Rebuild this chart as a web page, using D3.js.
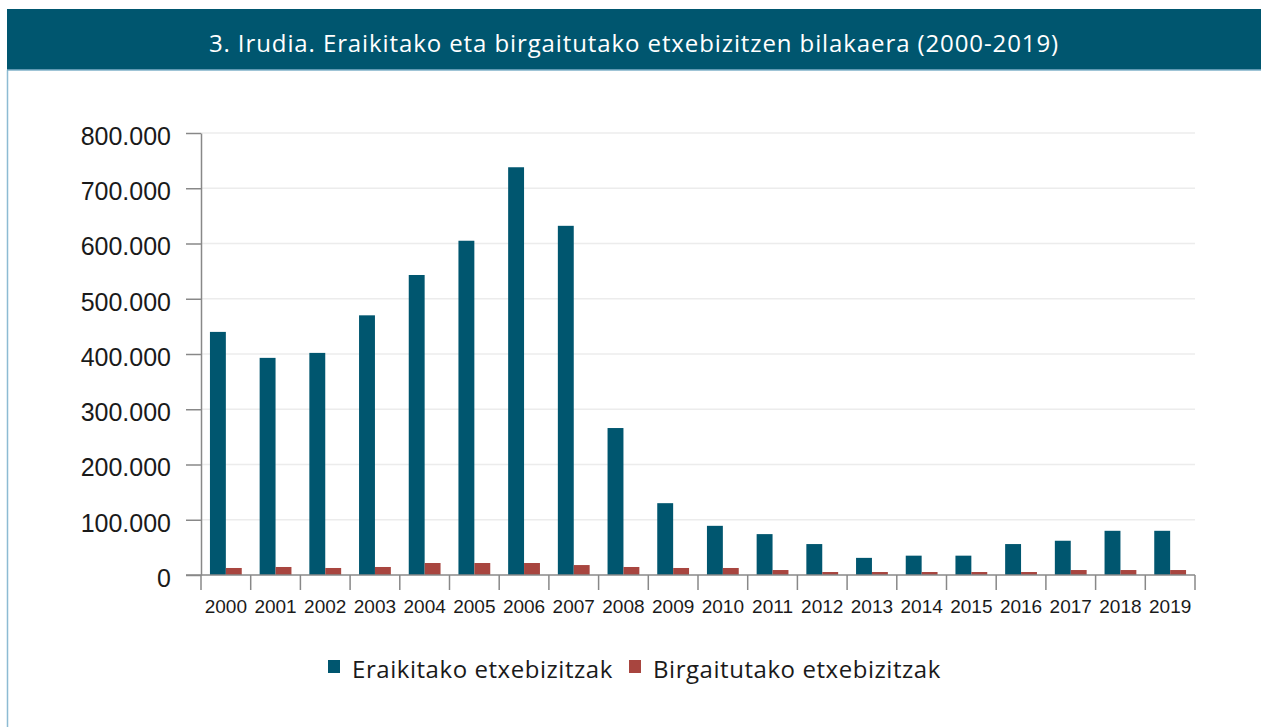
<!DOCTYPE html>
<html>
<head>
<meta charset="utf-8">
<script src="https://cdn.jsdelivr.net/npm/d3@7"></script>
<style>
  body { margin: 0; background: #fff; }
  svg { display: block; }
</style>
</head>
<body>
<svg id="graphic"></svg>
<script>

// Data
const years = ["2000","2001","2002","2003","2004","2005","2006","2007","2008","2009",
               "2010","2011","2012","2013","2014","2015","2016","2017","2018","2019"]
const eraikitakoak = [440000, 393000, 402000, 470000, 543000, 605000, 738000, 632000, 266000, 130000,
                      89000, 74000, 56000, 31000, 35000, 35000, 56000, 62000, 80000, 80000]
const birgaitutakoak = [12700, 14500, 12700, 14500, 21700, 21700, 21700, 18000, 14500, 12700,
                        12700, 9000, 5400, 5400, 5400, 5400, 5400, 9000, 9000, 9000]
const yTicks = [0, 100000, 200000, 300000, 400000, 500000, 600000, 700000, 800000]
const seriesNames = ["Eraikitako etxebizitzak", "Birgaitutako etxebizitzak"]
const title = "3. Irudia. Eraikitako eta birgaitutako etxebizitzen bilakaera (2000-2019)"

const w = 1261
const h = 727
const blue = "#00566f"
const red = "#a8453f"

const svg = d3.select("#graphic")
    .attr("width", w)
    .attr("height", h)

// Header band and frame
svg.append("line")
    .attr("x1", 7.5).attr("x2", 7.5)
    .attr("y1", 70).attr("y2", h)
    .attr("stroke", "#8dbbd3")
    .attr("stroke-width", 1.5)

svg.append("rect")
    .attr("x", 7).attr("y", 9)
    .attr("width", w - 7).attr("height", 61)
    .attr("fill", blue)

svg.append("line")
    .attr("x1", 7).attr("x2", w)
    .attr("y1", 70).attr("y2", 70)
    .attr("stroke", "#7fb0c8")
    .attr("stroke-width", 1.5)

svg.append("text")
    .attr("x", 634).attr("y", 52)
    .attr("text-anchor", "middle")
    .attr("fill", "#fff")
    .style("font-family", "'Open Sans', 'Noto Sans', sans-serif")
    .style("font-size", "24px")
    .style("letter-spacing", "0.9px")
    .text(title)

// Plot area
const plotLeft = 201, plotRight = 1195, plotTop = 133, plotBottom = 575

const xScale = d3.scaleBand()
    .domain(years)
    .range([plotLeft, plotRight])

const yScale = d3.scaleLinear()
    .domain([0, 800000])
    .range([plotBottom, plotTop])

const fmt = d => d3.format(",")(d).replace(/,/g, ".")

// Grid lines
svg.append("g")
    .selectAll("line")
    .data(yTicks.filter(d => d > 0))
    .enter()
    .append("line")
    .attr("x1", plotLeft).attr("x2", plotRight)
    .attr("y1", d => yScale(d)).attr("y2", d => yScale(d))
    .attr("stroke", "#ececec")
    .attr("stroke-width", 1.5)

// Bars
const sub = xScale.bandwidth() * 0.32

svg.append("g")
    .selectAll("rect")
    .data(eraikitakoak)
    .enter()
    .append("rect")
    .attr("x", (d, i) => xScale(years[i]) + xScale.bandwidth() / 2 - sub)
    .attr("y", d => yScale(d))
    .attr("width", sub)
    .attr("height", d => plotBottom - yScale(d))
    .attr("fill", blue)

svg.append("g")
    .selectAll("rect")
    .data(birgaitutakoak)
    .enter()
    .append("rect")
    .attr("x", (d, i) => xScale(years[i]) + xScale.bandwidth() / 2)
    .attr("y", d => yScale(d))
    .attr("width", sub)
    .attr("height", d => plotBottom - yScale(d))
    .attr("fill", red)

// Axes
const axisLeft = d3.axisLeft(yScale)
    .tickValues(yTicks)
    .tickFormat(fmt)
    .tickSize(15)
    .tickPadding(15)
    .tickSizeOuter(0)

const yAxis = svg.append("g")
    .attr("id", "y-axis")
    .attr("transform", `translate(${plotLeft}, 0)`)
    .call(axisLeft)

yAxis.select(".domain").attr("stroke", "#888").attr("stroke-width", 1.5)
yAxis.selectAll(".tick line").attr("stroke", "#888").attr("stroke-width", 1.5)
yAxis.selectAll("text")
    .attr("fill", "#1a1a1a")
    .attr("dy", "0.45em")
    .style("font-family", "'Liberation Sans', Arial, sans-serif")
    .style("font-size", "25px")

const xAxis = svg.append("g")
    .attr("id", "x-axis")
    .attr("transform", `translate(0, ${plotBottom})`)

xAxis.append("line")
    .attr("x1", plotLeft - 15).attr("x2", plotRight)
    .attr("stroke", "#888").attr("stroke-width", 1.5)

xAxis.selectAll(".tk")
    .data(years.concat(["end"]))
    .enter()
    .append("line")
    .attr("x1", (d, i) => i < years.length ? xScale(d) : plotRight)
    .attr("x2", (d, i) => i < years.length ? xScale(d) : plotRight)
    .attr("y1", 0).attr("y2", 15)
    .attr("stroke", "#888").attr("stroke-width", 1.5)

xAxis.selectAll("text")
    .data(years)
    .enter()
    .append("text")
    .attr("x", d => xScale(d) + xScale.bandwidth() / 2)
    .attr("y", 38)
    .attr("text-anchor", "middle")
    .attr("fill", "#1a1a1a")
    .style("font-family", "'Liberation Sans', Arial, sans-serif")
    .style("font-size", "19px")
    .text(d => d)

// Legend
const legend = svg.append("g")
const legendItems = [
    { name: seriesNames[0], color: blue, x: 328 },
    { name: seriesNames[1], color: red, x: 629 }
]

legend.selectAll("rect")
    .data(legendItems)
    .enter()
    .append("rect")
    .attr("x", d => d.x)
    .attr("y", 660)
    .attr("width", 12).attr("height", 13)
    .attr("fill", d => d.color)

legend.selectAll("text")
    .data(legendItems)
    .enter()
    .append("text")
    .attr("x", d => d.x + 24)
    .attr("y", 678)
    .attr("fill", "#1a1a1a")
    .style("font-family", "'Open Sans', 'Noto Sans', sans-serif")
    .style("font-size", "24px")
    .style("letter-spacing", "0.55px")
    .text(d => d.name)

</script>
</body>
</html>
